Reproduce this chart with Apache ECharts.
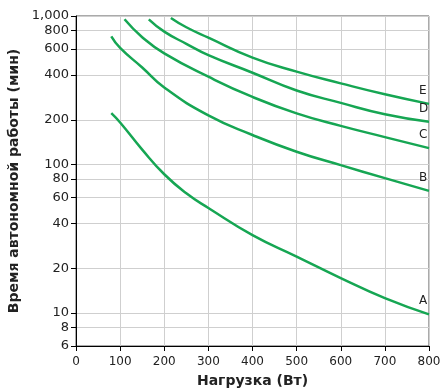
<!DOCTYPE html>
<html>
<head>
<meta charset="utf-8">
<script src="https://cdn.jsdelivr.net/npm/echarts@6/dist/echarts.min.js"></script>
<style>html,body{margin:0;padding:0;background:#fff;}#c{width:441px;height:389px;}</style>
</head>
<body>
<div id="c"></div>
<script>
const seriesNames = ['A', 'B', 'C', 'D', 'E'];
const loadsA = [80, 100, 150, 200, 250, 300, 400, 500, 600, 700, 800];
const timeA  = [222, 192, 126, 86, 64, 51, 33.5, 24, 17.2, 12.6, 9.8];
const loadsB = [80, 100, 150, 200, 300, 400, 500, 600, 700, 800];
const timeB  = [730, 610, 450, 330, 214, 158, 122, 99, 81, 66.5];
const loadsC = [110, 150, 200, 300, 400, 500, 600, 700, 800];
const timeC  = [950, 720, 560, 390, 285, 221, 182, 153, 129];
const loadsD = [165, 200, 250, 300, 400, 500, 600, 700, 800];
const timeD  = [950, 785, 650, 545, 415, 315, 260, 218, 194];
const loadsE = [215, 250, 300, 400, 500, 600, 700, 800];
const timeE  = [970, 840, 715, 525, 422, 352, 297, 256];
const yTicks = [6, 8, 10, 20, 40, 60, 80, 100, 200, 400, 600, 800, 1000];
const xMin = 0, xMax = 800, xStep = 100;
const yMin = 6, yMax = 1000;

const loads = [loadsA, loadsB, loadsC, loadsD, loadsE];
const times = [timeA, timeB, timeC, timeD, timeE];
const green = '#16a653';
const font = '"DejaVu Sans", Verdana, sans-serif';

const series = seriesNames.map((name, i) => ({
  name: name,
  type: 'line',
  smooth: 0.5,
  symbol: 'none',
  showSymbol: false,
  lineStyle: { color: green, width: 2.5 },
  itemStyle: { color: green },
  data: loads[i].map((x, j) => [x, times[i][j]]),
  endLabel: {
    show: true, formatter: name, distance: 0, offset: [-10, -13],
    color: '#222', fontSize: 12, fontFamily: font
  },
  labelLayout: { hideOverlap: false }
}));

const chart = echarts.init(document.getElementById('c'), null, { renderer: 'canvas' });
chart.setOption({
  animation: false,
  backgroundColor: '#fff',
  grid: { left: 76, right: 12, top: 16, bottom: 43, show: true, borderColor: '#555', borderWidth: 1, containLabel: false, outerBoundsMode: 'none' },
  xAxis: {
    type: 'value', min: xMin, max: xMax, interval: xStep,
    name: 'Нагрузка (Вт)', nameLocation: 'middle', nameGap: 28,
    nameTextStyle: { fontFamily: font, fontWeight: 'bold', fontSize: 14, color: '#222' },
    axisLine: { show: true, lineStyle: { color: '#000', width: 1 } },
    axisTick: { show: true, length: 5, lineStyle: { color: '#000' } },
    axisLabel: { fontFamily: font, fontSize: 12, color: '#222', margin: 10 },
    splitLine: { show: true, lineStyle: { color: '#cfcfcf', width: 1 } }
  },
  yAxis: {
    type: 'log', logBase: 10, min: yMin, max: yMax,
    name: 'Время автономной работы (мин)', nameLocation: 'middle', nameGap: 46,
    nameTextStyle: { fontFamily: font, fontWeight: 'bold', fontSize: 14, color: '#222' },
    axisLine: { show: true, lineStyle: { color: '#000', width: 1 } },
    axisTick: { show: true, length: 5, lineStyle: { color: '#000' }, customValues: yTicks },
    axisLabel: {
      fontFamily: font, fontSize: 13, color: '#222', margin: 7, customValues: yTicks,
      formatter: v => Math.round(v).toLocaleString('en-US')
    },
    splitLine: { show: true, lineStyle: { color: '#cfcfcf', width: 1 } },
    minorTick: { show: false }, minorSplitLine: { show: false }
  },
  series: series
});
</script>
</body>
</html>
